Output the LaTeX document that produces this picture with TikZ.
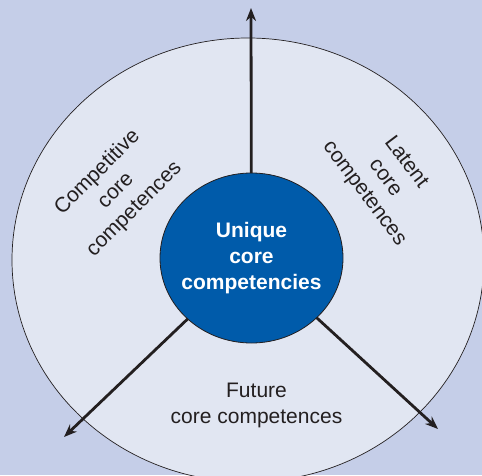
\documentclass[tikz,border=0pt]{standalone}
\usepackage{fontspec}
\setmainfont{Liberation Sans}
\usetikzlibrary{shapes.geometric,arrows.meta,positioning}

\definecolor{bgblue}{HTML}{C5CEE8}
\definecolor{ringfill}{HTML}{E1E6F2}
\definecolor{coreblue}{HTML}{005BAA}
\definecolor{inkgray}{HTML}{231F20}

\begin{document}
\begin{tikzpicture}[
    x=1pt, y=1pt,
    ring/.style={ellipse, draw=inkgray, line width=0.7pt, fill=ringfill, minimum width=472pt, minimum height=444pt, inner sep=0pt},
    corecircle/.style={ellipse, draw=inkgray, line width=0.8pt, fill=coreblue, minimum width=183pt, minimum height=170pt, inner sep=0pt},
    coretext/.style={align=center, text=white, font=\fontsize{21}{26}\selectfont\bfseries},
    label/.style={align=center, text=inkgray, font=\fontsize{21}{26}\selectfont},
    arrow/.style={-{Stealth[length=13pt,width=10pt]}, line width=2.8pt, draw=inkgray, shorten <=-0.5pt}
]

% Background and fixed frame
\fill[bgblue] (0,0) rectangle (482,475);
\useasboundingbox (0,0) rectangle (482,475);

% Outer ring and inner core
\node[ring] (ring) at (248,215) {};
\node[corecircle] (core) at (251.5,217) {};
\node[coretext] (unique) at (core.center) {Unique\\core\\competencies};

% Arrow tips
\coordinate (tipN) at (251,467);
\coordinate (tipSW) at (64,38);
\coordinate (tipSE) at (438,46);

% Arrows out of the core
\draw[arrow] (core) -- (tipN);
\draw[arrow] (core) -- (tipSW);
\draw[arrow] (core) -- (tipSE);

% Sector labels
\node[label, rotate=45] (competitive) at (116,284) {Competitive\\core\\competences};
\node[label, rotate=-53] (latent) at (385,297) {Latent\\core\\competences};
\node[label] (future) at (256.5,70) {Future\\core competences};

\end{tikzpicture}
\end{document}
